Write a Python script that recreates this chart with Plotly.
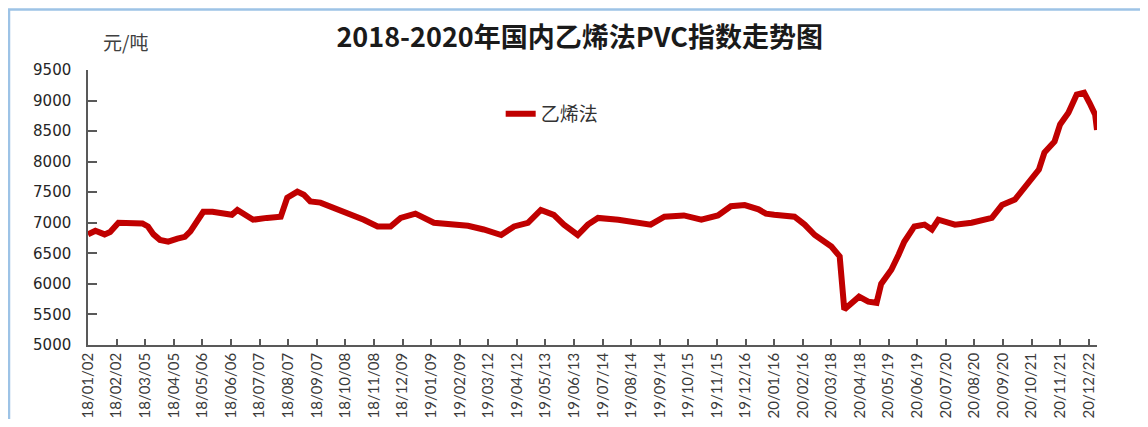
import plotly.graph_objects as go

# ---- data ----
dates = [
    "2018-01-02", "2018-01-10", "2018-01-20", "2018-01-26", "2018-02-04", "2018-02-14",
    "2018-03-02", "2018-03-08", "2018-03-14", "2018-03-21", "2018-03-30", "2018-04-09",
    "2018-04-17", "2018-04-23", "2018-04-28", "2018-05-07", "2018-05-17", "2018-05-31",
    "2018-06-07", "2018-06-13", "2018-06-19", "2018-06-30", "2018-07-15", "2018-07-30",
    "2018-08-06", "2018-08-17", "2018-08-24", "2018-08-31", "2018-09-11", "2018-09-25",
    "2018-10-14", "2018-10-28", "2018-11-12", "2018-11-26", "2018-12-07", "2018-12-16",
    "2018-12-23", "2019-01-12", "2019-02-18", "2019-03-07", "2019-03-26", "2019-04-09",
    "2019-04-24", "2019-05-08", "2019-05-22", "2019-06-02", "2019-06-17", "2019-06-28",
    "2019-07-09", "2019-07-31", "2019-08-17", "2019-09-04", "2019-09-19", "2019-10-10",
    "2019-10-29", "2019-11-16", "2019-11-30", "2019-12-15", "2019-12-30", "2020-01-07",
    "2020-01-16", "2020-02-07", "2020-02-18", "2020-02-29", "2020-03-18", "2020-03-27",
    "2020-04-01", "2020-04-09", "2020-04-17", "2020-04-27", "2020-05-06", "2020-05-11",
    "2020-05-22", "2020-05-30", "2020-06-05", "2020-06-16", "2020-06-27", "2020-07-05",
    "2020-07-12", "2020-07-30", "2020-08-17", "2020-09-08", "2020-09-19", "2020-10-03",
    "2020-10-18", "2020-10-29", "2020-11-04", "2020-11-15", "2020-11-21", "2020-11-30",
    "2020-12-09", "2020-12-17", "2020-12-23", "2020-12-29", "2020-12-31",
]
prices = [
    6810, 6870, 6810, 6850, 7000, 6990,
    6990, 6940, 6810, 6720, 6690, 6740,
    6770, 6860, 6970, 7180, 7180, 7150,
    7130, 7210, 7160, 7050, 7080, 7100,
    7410, 7510, 7460, 7350, 7330, 7250,
    7130, 7050, 6940, 6940, 7080, 7130,
    7150, 7000, 6950, 6890, 6800, 6940,
    7000, 7210, 7130, 6970, 6800, 6970,
    7080, 7050, 7000, 6970, 7100, 7120,
    7050, 7120, 7270, 7290, 7220, 7150,
    7130, 7100, 6970, 6800, 6610, 6450,
    5580, 5690, 5790, 5710, 5690, 6000,
    6230, 6480, 6690, 6940, 6970, 6890,
    7050, 6970, 7000, 7080, 7290, 7380,
    7660, 7870, 8150, 8330, 8610, 8800,
    9100, 9130, 8960, 8770, 8520,
]

tick_dates = [
    "2018-01-02", "2018-02-02", "2018-03-05", "2018-04-05", "2018-05-06", "2018-06-06",
    "2018-07-07", "2018-08-07", "2018-09-07", "2018-10-08", "2018-11-08", "2018-12-09",
    "2019-01-09", "2019-02-09", "2019-03-12", "2019-04-12", "2019-05-13", "2019-06-13",
    "2019-07-14", "2019-08-14", "2019-09-14", "2019-10-15", "2019-11-15", "2019-12-16",
    "2020-01-16", "2020-02-16", "2020-03-18", "2020-04-18", "2020-05-19", "2020-06-19",
    "2020-07-20", "2020-08-20", "2020-09-20", "2020-10-21", "2020-11-21", "2020-12-22",
]
tick_labels = [
    "18/01/02", "18/02/02", "18/03/05", "18/04/05", "18/05/06", "18/06/06",
    "18/07/07", "18/08/07", "18/09/07", "18/10/08", "18/11/08", "18/12/09",
    "19/01/09", "19/02/09", "19/03/12", "19/04/12", "19/05/13", "19/06/13",
    "19/07/14", "19/08/14", "19/09/14", "19/10/15", "19/11/15", "19/12/16",
    "20/01/16", "20/02/16", "20/03/18", "20/04/18", "20/05/19", "20/06/19",
    "20/07/20", "20/08/20", "20/09/20", "20/10/21", "20/11/21", "20/12/22",
]
y_ticks = [5000, 5500, 6000, 6500, 7000, 7500, 8000, 8500, 9000, 9500]

series_name = "乙烯法"
title_text = "<b>2018-2020年国内乙烯法PVC指数走势图</b>"
unit_text = "元/吨"

# ---- figure ----
fig = go.Figure()
fig.add_trace(go.Scatter(
    x=dates, y=prices, mode="lines", name=series_name,
    line=dict(color="#c00000", width=6),
))

axis_color = "#595959"
fig.update_layout(
    width=1132, height=411,
    margin=dict(l=80, r=43, t=62, b=74, autoexpand=False),
    paper_bgcolor="white", plot_bgcolor="white",
    title=dict(text=title_text, x=0.505, xanchor="center", y=0.927, yanchor="middle",
               font=dict(family="Noto Sans CJK SC", size=27, color="#1a1a1a")),
    showlegend=True,
    legend=dict(x=0.409, y=0.84, xanchor="left", yanchor="middle",
                bgcolor="rgba(0,0,0,0)",
                font=dict(family="Noto Sans CJK SC", size=19, color="#333333")),
    xaxis=dict(
        type="date", range=["2018-01-02", "2020-12-31"], automargin=False,
        tickmode="array", tickvals=tick_dates, ticktext=tick_labels,
        tickangle=-90, ticks="inside", ticklen=6, tickcolor=axis_color, tickwidth=1.5,
        showline=True, linecolor=axis_color, linewidth=1.5, showgrid=False, zeroline=False,
        tickfont=dict(family="Lato", size=15, color="#3a3a3a"),
    ),
    yaxis=dict(
        range=[5000, 9500], tickmode="array", tickvals=y_ticks, automargin=False,
        ticks="inside", ticklen=9, tickcolor=axis_color, tickwidth=1.5,
        showline=True, linecolor=axis_color, linewidth=1.5, showgrid=False, zeroline=False,
        ticklabelstandoff=12,
        tickfont=dict(family="DejaVu Sans", size=15, color="#262626"),
    ),
    annotations=[dict(
        text=unit_text, xref="paper", yref="paper", x=0.0367, y=1.102,
        xanchor="center", yanchor="middle", showarrow=False,
        font=dict(family="Noto Sans CJK SC", size=19, color="#404040"),
    )],
    shapes=[dict(
        type="rect", xref="paper", yref="paper",
        x0=-0.0783, x1=1.07, y0=-0.4, y1=1.2196,
        line=dict(color="#9dc3e6", width=2.5), fillcolor="rgba(0,0,0,0)", layer="below",
    )],
)

fig.write_html("out.html")
